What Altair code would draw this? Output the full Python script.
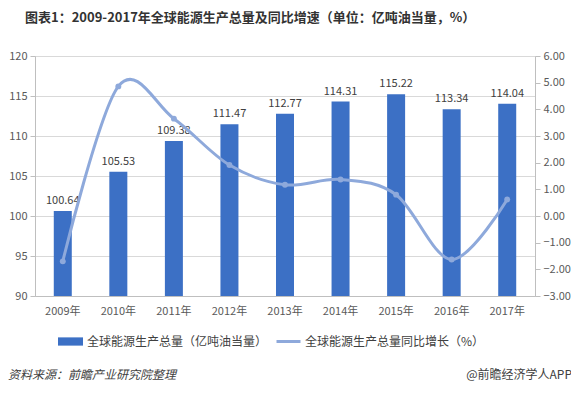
import altair as alt
import pandas as pd

years = ["2009年", "2010年", "2011年", "2012年", "2013年", "2014年", "2015年", "2016年", "2017年"]
output = [100.64, 105.53, 109.38, 111.47, 112.77, 114.31, 115.22, 113.34, 114.04]
growth = [-1.70, 4.86, 3.65, 1.91, 1.17, 1.37, 0.80, -1.63, 0.62]

bar_name = "全球能源生产总量（亿吨油当量）"
line_name = "全球能源生产总量同比增长（%）"
title_text = "图表1：2009-2017年全球能源生产总量及同比增速（单位：亿吨油当量，%）"
source_text = "资料来源：前瞻产业研究院整理"
brand_text = "@前瞻经济学人APP"

df = pd.DataFrame({"year": years, "output": output, "growth": growth})
df["label"] = [f"{v:.2f}" for v in output]
df["s1"] = bar_name
df["s2"] = line_name

FONT = "Noto Sans CJK SC"
BLUE = "#3C70C5"
LINE = "#8EA9DB"

x_enc = alt.X("year:N", sort=years, title=None,
              scale=alt.Scale(paddingInner=0, paddingOuter=0),
              axis=alt.Axis(labelAngle=0, ticks=False, domainColor="#bfbfbf",
                            labelColor="#595959", labelFontSize=11, labelPadding=9,
                            labelFont=FONT))

y_left = alt.Y("output:Q", title=None,
               scale=alt.Scale(domain=[90, 120], nice=False, zero=False),
               axis=alt.Axis(values=[90, 95, 100, 105, 110, 115, 120], gridColor="#d9d9d9",
                             domainColor="#bfbfbf", tickColor="#bfbfbf", tickSize=5,
                             labelColor="#595959", labelFontSize=11, labelPadding=3,
                             labelOverlap=False, labelFont=FONT))

bars = alt.Chart(df).mark_bar(size=18, clip=True).encode(
    x=x_enc,
    y=y_left,
    fill=alt.Fill("s1:N", scale=alt.Scale(range=[BLUE]),
                  legend=alt.Legend(title=None, orient="none", legendX=22, legendY=272,
                                    symbolType="M-1,-0.33H1V0.33H-1Z", symbolSize=625,
                                    labelFontSize=12, labelColor="#404040", labelFont=FONT,
                                    labelOffset=3, labelLimit=0)),
)

labels = alt.Chart(df).mark_text(baseline="bottom", dy=-5, fontSize=11, color="#404040",
                                 font=FONT).encode(
    x=x_enc, y=y_left, text="label:N")

left = alt.layer(bars, labels)

y_right = alt.Y("growth:Q", title=None,
                scale=alt.Scale(domain=[-3, 6], nice=False),
                axis=alt.Axis(orient="right", values=list(range(-3, 7)), format=".2f",
                              grid=False, domainColor="#bfbfbf", tickColor="#bfbfbf",
                              tickSize=5, labelColor="#595959", labelFontSize=11,
                              labelPadding=3, labelOverlap=False, labelFont=FONT))

line = alt.Chart(df).mark_line(interpolate="cardinal", strokeWidth=3).encode(
    x=x_enc,
    y=y_right,
    stroke=alt.Stroke("s2:N", scale=alt.Scale(range=[LINE]),
                      legend=alt.Legend(title=None, orient="none", legendX=240, legendY=272,
                                        symbolSize=576, symbolStrokeWidth=3,
                                        labelFontSize=12, labelColor="#404040", labelFont=FONT,
                                        labelOffset=3, labelLimit=0)),
)
pts = alt.Chart(df).mark_point(filled=True, size=35, opacity=1, color=LINE).encode(
    x=x_enc, y=y_right)

right = alt.layer(line, pts)

texts = pd.DataFrame({"t": [0]})
title = alt.Chart(texts).mark_text(text=title_text, align="left", baseline="middle",
                                   fontSize=13, fontWeight="bold", color="#333333",
                                   font=FONT, limit=0).encode(x=alt.value(-10), y=alt.value(-38))
source = alt.Chart(texts).mark_text(text=source_text, align="left", baseline="middle",
                                    fontSize=12, fontStyle="italic", color="#404040",
                                    font=FONT).encode(x=alt.value(-27), y=alt.value(319))
brand = alt.Chart(texts).mark_text(text=brand_text, align="right", baseline="middle",
                                   fontSize=12, color="#404040",
                                   font=FONT).encode(x=alt.value(537), y=alt.value(319))

chart = alt.layer(left, right, title, source, brand).resolve_scale(
    y="independent", fill="independent", stroke="independent"
).properties(
    width=500, height=240,
    autosize=alt.AutoSizeParams(type="none"),
    padding={"left": 27, "top": 48, "right": 36, "bottom": 89},
).configure_view(stroke=None).configure(background="white")

chart.save("out.html", embed_options={"renderer": "svg", "actions": False})
